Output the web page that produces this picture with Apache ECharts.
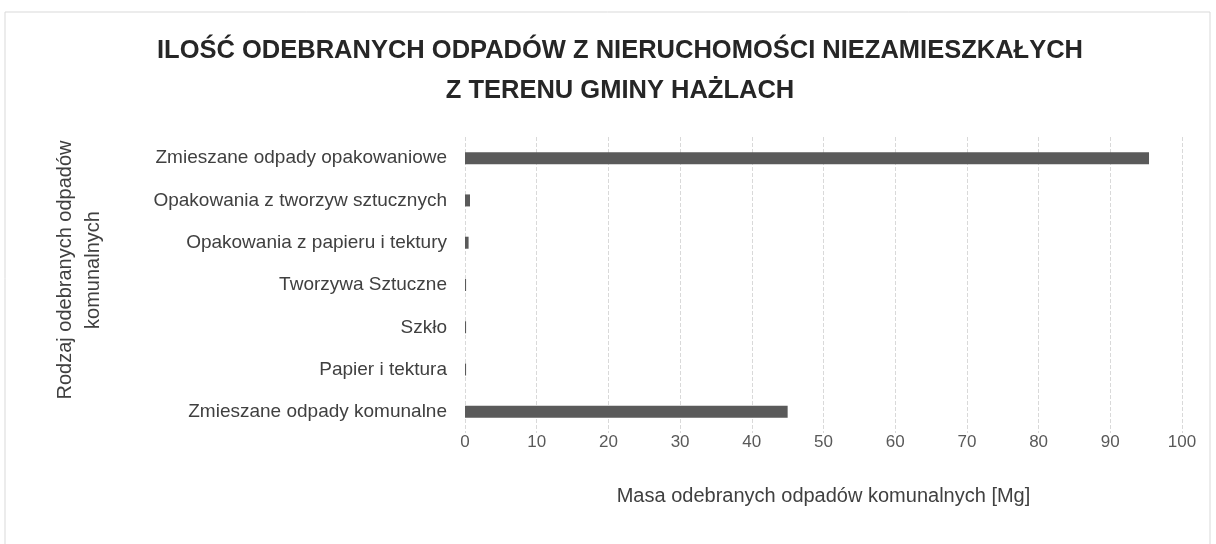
<!DOCTYPE html>
<html>
<head>
    <meta charset="utf-8">
    <title>echarts</title>
    <style>
        html, body { margin: 0; padding: 0; background: #fff; }
        #big { width: 1216px; height: 544px; }
    </style>
</head>
<body>
    <div id="big"></div>
    <script src="https://cdn.jsdelivr.net/npm/echarts@6/dist/echarts.min.js"></script>
    <script>
    var CATEGORIES = [
        'Zmieszane odpady komunalne',
        'Papier i tektura',
        'Szkło',
        'Tworzywa Sztuczne',
        'Opakowania z papieru i tektury',
        'Opakowania z tworzyw sztucznych',
        'Zmieszane odpady opakowaniowe'
    ];
    var VALUES = [45.0, 0.15, 0.15, 0.15, 0.5, 0.7, 95.4];
    var X_TICKS = [0, 10, 20, 30, 40, 50, 60, 70, 80, 90, 100];

    var font = 'Liberation Sans, Arial, sans-serif';
    var myEcharts = echarts.init(document.getElementById('big'));
    var options = {
        animation: false,
        title: {
            text: 'ILOŚĆ ODEBRANYCH ODPADÓW Z NIERUCHOMOŚCI NIEZAMIESZKAŁYCH\nZ TERENU GMINY HAŻLACH',
            left: 615,
            textAlign: 'center',
            top: 26,
            textStyle: {
                fontFamily: font,
                fontSize: 25.5,
                fontWeight: 'bold',
                color: '#262626',
                lineHeight: 40
            }
        },
        graphic: [{
            type: 'rect',
            shape: { x: 5, y: 12, width: 1205, height: 540 },
            style: { fill: 'none', stroke: '#d9d9d9', lineWidth: 1 }
        }],
        grid: {
            left: 465,
            right: 34,
            top: 137,
            height: 296
        },
        xAxis: {
            type: 'value',
            min: X_TICKS[0],
            max: X_TICKS[X_TICKS.length - 1],
            interval: 10,
            name: 'Masa odebranych odpadów komunalnych [Mg]',
            nameLocation: 'middle',
            nameGap: 53,
            nameTextStyle: { fontFamily: font, fontSize: 20, color: '#404040' },
            axisLine: { show: false },
            axisTick: { show: false },
            axisLabel: { fontFamily: font, fontSize: 17, color: '#595959', margin: 1 },
            splitLine: { lineStyle: { color: '#d9d9d9', type: 'dashed' } }
        },
        yAxis: {
            type: 'category',
            data: CATEGORIES,
            name: 'Rodzaj odebranych odpadów\nkomunalnych',
            nameLocation: 'middle',
            nameGap: 358,
            nameRotate: 90,
            nameTextStyle: { fontFamily: font, fontSize: 20, color: '#404040', lineHeight: 28, padding: [0, 0, 0, 30] },
            axisLine: { show: false },
            axisTick: { show: false },
            axisLabel: { fontFamily: font, fontSize: 19, color: '#404040', margin: 18 }
        },
        series: [{
            type: 'bar',
            data: VALUES,
            barWidth: 12,
            itemStyle: { color: '#5a5a5a' }
        }]
    };
    myEcharts.setOption(options);
    </script>
</body>
</html>
